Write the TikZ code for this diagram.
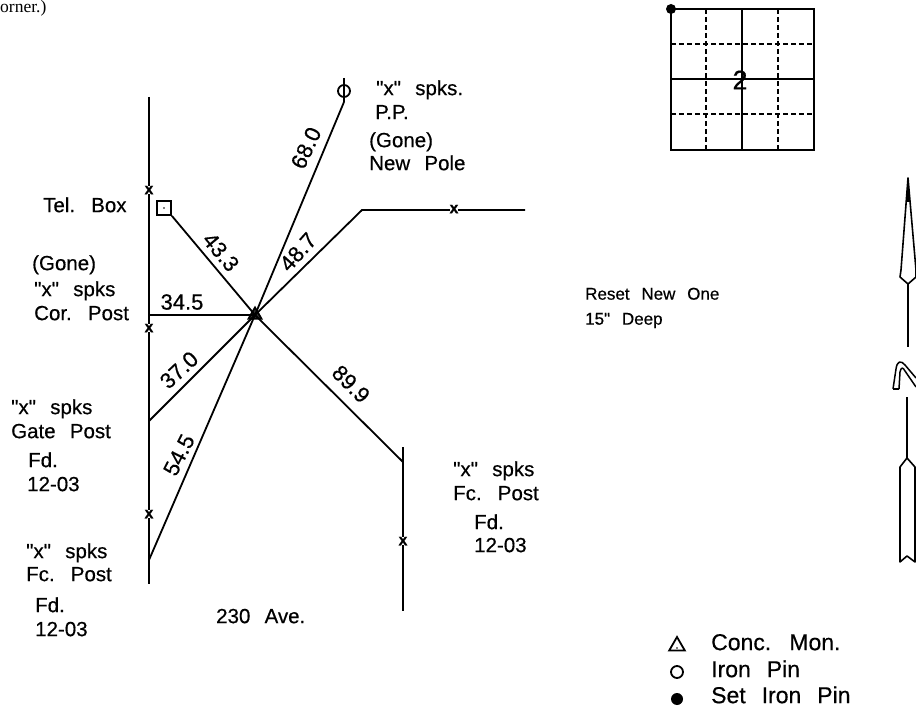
\documentclass[tikz,border=0pt]{standalone}
\usepackage{fontspec}
\setmainfont{Liberation Sans}[Ligatures=TeXOff,WordSpace=2.5,FakeBold=0.5]
\newfontfamily\serifnote{Liberation Serif}
\usetikzlibrary{shapes.geometric}
\tikzset{
  x=1pt,y=-1pt,
  lbl/.style={anchor=mid west,inner sep=0pt,yshift=-3.5pt,font=\fontsize{20.5}{22}\selectfont},
  lblleg/.style={anchor=mid west,inner sep=0pt,yshift=-3.5pt,font=\fontsize{23}{24}\selectfont},
  lblsmall/.style={anchor=mid west,inner sep=0pt,yshift=-3pt,font=\fontsize{17}{18}\selectfont},
  dim/.style={inner sep=0pt,font=\fontsize{22}{22}\selectfont},
  ln/.style={line width=1.8pt,black},
  grid major/.style={line width=1.6pt},
  grid minor/.style={line width=1.2pt,dash pattern=on 5pt off 3pt},
  xmark/.style={inner sep=0pt,fill=white,font=\bfseries\fontsize{16}{16}\selectfont,text height=8.5pt,text depth=0pt},
  pin/.style={circle,fill=black,inner sep=0pt,minimum size=#1},
  ring/.style={circle,draw,line width=1.8pt,inner sep=0pt,minimum size=#1},
  mono/.style={regular polygon,regular polygon sides=3,draw,line width=1.8pt,inner sep=0pt,minimum size=#1}
}
\begin{document}
\begin{tikzpicture}
\useasboundingbox (0,0) rectangle (916,711);
% fence and connection points
\coordinate (fa) at (149,97);
\coordinate (fb) at (149,584);
\coordinate (p345) at (149,315);
\coordinate (p370) at (149,421);
\coordinate (p545) at (149,560);
\coordinate (ga) at (403,447);
\coordinate (gb) at (403,611);
\coordinate (p899) at (403,462);
\coordinate (bend) at (362,210);
\coordinate (hend) at (525,210);
\draw[ln] (fa) -- (fb);
\draw[ln] (ga) -- (gb);
% monument
\node[mono=15,fill=black!80] (mon) at (255,315) {};
\node[draw,line width=1.8pt,minimum size=14pt,inner sep=0pt] (box) at (164,208) {};
\node[pin=1.8pt] (boxdot) at (164,208) {};
\node[ring=12pt] (pp) at (344,91) {};
\coordinate (ppa) at (344,78);
\coordinate (ppb) at (344,102);
\draw[line width=1.5pt] (ppa) -- (ppb);
% ties
\draw[ln] (mon.center) -- (p345);
\draw[ln] (mon.center) -- (box.south east);
\draw[ln] (mon.center) -- (ppb);
\draw[ln] (mon.center) -- (bend) -- (hend);
\draw[ln] (mon.center) -- (p370);
\draw[ln] (mon.center) -- (p545);
\draw[ln] (mon.center) -- (p899);
% x marks
\node[xmark] (x1) at (149,190) {x};
\node[xmark] (x2) at (149,328) {x};
\node[xmark] (x3) at (149,514) {x};
\node[xmark] (x4) at (403,541) {x};
\node[xmark] (x5) at (454,209) {x};
% dimensions
\node[dim,rotate=65] (d680) at (306,148) {68.0};
\node[dim,rotate=-50] (d433) at (221,252) {43.3};
\node[dim,rotate=48] (d487) at (298,252) {48.7};
\node[dim] (d345) at (182,302) {34.5};
\node[dim,rotate=43] (d370) at (179,370) {37.0};
\node[dim,rotate=63] (d545) at (179,455) {54.5};
\node[dim,rotate=-45] (d899) at (351,384) {89.9};
% labels
\node[inner sep=0pt,anchor=mid west,font=\serifnote\fontsize{17.5}{18}\selectfont] (note) at (0,10) {orner.)};
\node[lbl] (t1) at (43,206) {Tel. Box};
\node[lbl] (t2) at (32,264) {(Gone)};
\node[lbl] (t3) at (34,290) {"x" spks};
\node[lbl] (t4) at (34,314) {Cor. Post};
\node[lbl] (t5) at (376,89) {"x" spks.};
\node[lbl] (t6) at (375,113) {P.P.};
\node[lbl] (t7) at (369,141) {(Gone)};
\node[lbl] (t8) at (369,164) {New Pole};
\node[lblsmall] (t9) at (585,294) {Reset New One};
\node[lblsmall] (t10) at (585,319) {15" Deep};
\node[lbl] (t11) at (11,408) {"x" spks};
\node[lbl] (t12) at (11,432) {Gate Post};
\node[lbl] (t13) at (28,461) {Fd.};
\node[lbl] (t14) at (27,485) {12-03};
\node[lbl] (t15) at (26,552) {"x" spks};
\node[lbl] (t16) at (26,575) {Fc. Post};
\node[lbl] (t17) at (35,606) {Fd.};
\node[lbl] (t18) at (35,630) {12-03};
\node[lbl] (t19) at (216,617) {230 Ave.};
\node[lbl] (t20) at (453,470) {"x" spks};
\node[lbl] (t21) at (453,494) {Fc. Post};
\node[lbl] (t22) at (474,523) {Fd.};
\node[lbl] (t23) at (474,546) {12-03};
% section inset
\draw[grid minor] (706,9) -- (706,150) (778,9) -- (778,150) (671,44) -- (814,44) (671,114) -- (814,114);
\draw[grid major] (671,9) rectangle (814,150);
\draw[grid major] (742,9) -- (742,150) (671,79) -- (814,79);
\node[pin=10pt] (corner) at (671,9) {};
\node[inner sep=0pt,font=\fontsize{27}{27}\selectfont] (sec) at (740,80) {2};
% north arrow
\draw[line width=1.6pt,line join=round] (908,178) -- (916,270) -- (916,277) -- (908,284) -- (900,277) -- (901,270) -- cycle;
\fill (908,178) -- (910,202) -- (906,202) -- cycle;
\draw[line width=1.5pt] (908,284) -- (908,347) (907,397) -- (907,458);
\draw[line width=1.6pt,line join=round] (907,458) -- (915,467) -- (915,562) -- (907,556) -- (900,562) -- (900,467) -- cycle;
\draw[line width=1.5pt,line join=round] (893,389) -- (896,369) .. controls (897,361) and (901,360) .. (905,365) -- (916,378);
\draw[line width=1.5pt,line join=round] (899,389) -- (900,372) .. controls (901,367) and (903,367) .. (905,371) -- (916,387);
\draw[line width=1.5pt] (893,389) -- (899,389);
% legend
\node[mono=18,fill=white] (leg1) at (677,646) {};
\node[pin=1.8pt] (leg1dot) at (677,648) {};
\node[ring=12pt] (leg2) at (677,672) {};
\node[pin=12pt] (leg3) at (677,699) {};
\node[lblleg] (l1) at (711,644) {Conc. Mon.};
\node[lblleg] (l2) at (711,671) {Iron Pin};
\node[lblleg] (l3) at (711,697) {Set Iron Pin};
\end{tikzpicture}
\end{document}
